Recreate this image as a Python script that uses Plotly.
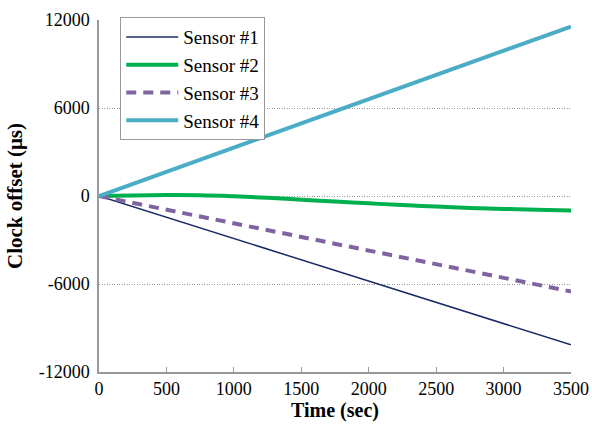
import plotly.graph_objects as go

time = [0, 250, 500, 750, 1000, 1250, 1500, 1750, 2000, 2250, 2500, 2750, 3000, 3250, 3500]
sensor1 = [0, -725, -1450, -2175, -2900, -3625, -4350, -5075, -5800, -6525, -7250, -7975, -8700, -9425, -10150]
sensor2 = [0, 40, 60, 50, -20, -120, -250, -380, -500, -620, -720, -810, -880, -940, -990]
sensor3 = [0, -465, -930, -1395, -1860, -2325, -2790, -3255, -3720, -4185, -4650, -5115, -5580, -6045, -6510]
sensor4 = [0, 825, 1650, 2475, 3300, 4125, 4950, 5775, 6600, 7425, 8250, 9075, 9900, 10725, 11550]

yticks = [-12000, -6000, 0, 6000, 12000]
yticklabels = ["-12000", "-6000", "0", "6000", "12000"]
xticks = [0, 500, 1000, 1500, 2000, 2500, 3000, 3500]
xticklabels = ["0", "500", "1000", "1500", "2000", "2500", "3000", "3500"]

font = "Liberation Serif, Times New Roman, serif"

fig = go.Figure()
fig.add_trace(go.Scatter(x=time, y=sensor1, mode="lines", name="Sensor #1",
                         line=dict(color="#1b2a68", width=1.5)))
fig.add_trace(go.Scatter(x=time, y=sensor2, mode="lines", name="Sensor #2",
                         line=dict(color="#00b04f", width=4, shape="spline")))
fig.add_trace(go.Scatter(x=time, y=sensor3, mode="lines", name="Sensor #3",
                         line=dict(color="#8064a2", width=4, dash="10px,7px")))
fig.add_trace(go.Scatter(x=time, y=sensor4, mode="lines", name="Sensor #4",
                         line=dict(color="#4bacc6", width=4)))

fig.update_layout(
    width=592, height=425,
    margin=dict(l=99, r=21, t=20, b=53),
    paper_bgcolor="white", plot_bgcolor="white",
    font=dict(family=font, size=18, color="black"),
    showlegend=True,
    legend=dict(x=0.045, y=1.008, xanchor="left", yanchor="top",
                bgcolor="white", bordercolor="#999999", borderwidth=1,
                font=dict(family=font, size=19), tracegroupgap=0,
                itemwidth=52),
    xaxis=dict(range=[0, 3500], tickvals=xticks, ticktext=xticklabels,
               showgrid=False, zeroline=False, showline=True, linecolor="#999999",
               linewidth=1.5, ticks="inside", ticklen=5, tickcolor="#999999",
               automargin=False,
               tickfont=dict(family=font, size=18),
               title=dict(text="<b>Time (sec)</b>", font=dict(family=font, size=20), standoff=4)),
    yaxis=dict(range=[-12000, 12000], tickvals=yticks, ticktext=yticklabels,
               showgrid=True, gridcolor="#999999", griddash="1px,1.5px", gridwidth=1,
               zeroline=False, showline=True, linecolor="#999999", linewidth=1.5,
               automargin=False, ticklabelstandoff=4,
               ticks="", tickfont=dict(family=font, size=18),
               title=dict(text="<b>Clock offset (μs)</b>", font=dict(family=font, size=21), standoff=10)),
)

fig.write_html("out.html", config={"displayModeBar": False},
               post_script="document.body.style.margin='0';document.body.style.overflow='hidden';")
